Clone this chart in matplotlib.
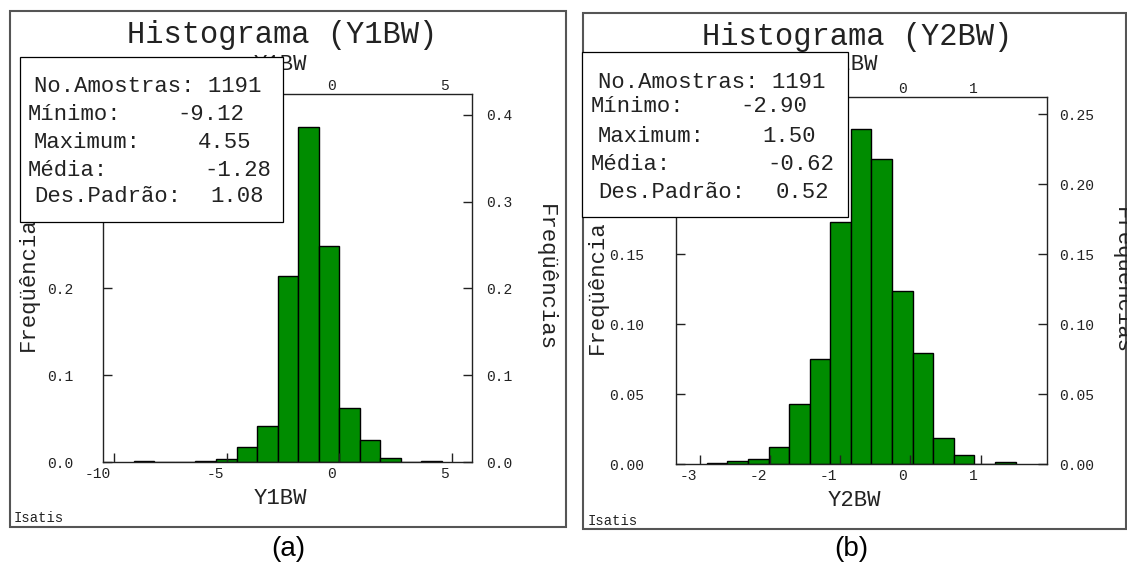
import numpy as np
import matplotlib
matplotlib.use("Agg")
import matplotlib.pyplot as plt
from matplotlib.patches import Rectangle
from matplotlib.transforms import ScaledTranslation

W, H, DPI = 1127, 567, 100
MONO = "Liberation Mono"
SANS = "Liberation Sans"
BAR_GREEN = "#008c00"
INK = "#222222"

# ---- Y1BW histogram ----
y1_name = "Y1BW"
y1_count = 1191
y1_min, y1_max = -9.12, 4.55
y1_mean, y1_std = -1.28, 1.08
y1_freq = [0.0008, 0.0, 0.0, 0.0008, 0.0034, 0.0173, 0.0411, 0.2140,
           0.3866, 0.2490, 0.0623, 0.0250, 0.0043, 0.0, 0.0008]
y1_xticks = [-10, -5, 0, 5]
y1_yticks = [0.0, 0.1, 0.2, 0.3, 0.4]
y1_xlim = (-10.49, 5.90)
y1_ylim = (0.0, 0.4242)

# ---- Y2BW histogram ----
y2_name = "Y2BW"
y2_count = 1191
y2_min, y2_max = -2.90, 1.50
y2_mean, y2_std = -0.62, 0.52
y2_freq = [0.0008, 0.0024, 0.0038, 0.0126, 0.0431, 0.0752, 0.1730, 0.2393,
           0.2183, 0.1240, 0.0797, 0.0188, 0.0064, 0.0, 0.0014]
y2_xticks = [-3, -2, -1, 0, 1]
y2_yticks = [0.00, 0.05, 0.10, 0.15, 0.20, 0.25]
y2_xlim = (-3.338, 1.943)
y2_ylim = (0.0, 0.2626)

stat_labels = ["No.Amostras:", "Mínimo:", "Maximum:", "Média:", "Des.Padrão:"]
captions = ["(a)", "(b)"]

fig = plt.figure(figsize=(W / DPI, H / DPI), dpi=DPI)
fig.patch.set_facecolor("white")


def fx(x):
    return x / W


def fy(y):
    return 1 - y / H


def put(x, y, s, size, ha="left", va="center", rot=0, z=3, family=MONO, color=INK):
    fig.text(fx(x), fy(y), s, fontsize=size, ha=ha, va=va, rotation=rot,
             zorder=z, family=family, color=color)


def rect(l, t, r, b, ec, lw, fc="none", z=1):
    fig.add_artist(Rectangle((fx(l), fy(b)), (r - l) / W, (b - t) / H,
                             transform=fig.transFigure, facecolor=fc,
                             edgecolor=ec, linewidth=lw, zorder=z))


def shift(labels, dx_px, dy_px):
    off = ScaledTranslation(dx_px / DPI, dy_px / DPI, fig.dpi_scale_trans)
    for lab in labels:
        lab.set_transform(lab.get_transform() + off)
        lab.set_horizontalalignment("right")


def style_ticks(ax, pad):
    ax.tick_params(direction="in", length=6.5, width=1.0, color=INK,
                   labelsize=10.5, labelcolor=INK, pad=pad)


def panel(name, count, vmin, vmax, mean, std, freq, xticks, yticks, yfmt,
          xlim, ylim, lay):
    l, t, r, b = lay["axes"]
    bl, bt, br, bb = lay["box"]
    ax = fig.add_axes([fx(l), fy(b), (r - l) / W, (b - t) / H])
    edges = np.linspace(vmin, vmax, len(freq) + 1)
    ax.bar(edges[:-1], freq, width=np.diff(edges), align="edge",
           color=BAR_GREEN, edgecolor="black", linewidth=1.0)
    ax.set_xlim(*xlim)
    ax.set_ylim(*ylim)
    for sp in ax.spines.values():
        sp.set_color(INK)
        sp.set_linewidth(1.0)

    # tick positions in figure pixels, to leave out labels beneath the box
    xpix = [l + (v - xlim[0]) / (xlim[1] - xlim[0]) * (r - l) for v in xticks]
    ypix = [b - (v - ylim[0]) / (ylim[1] - ylim[0]) * (b - t) for v in yticks]
    ylabels = [yfmt.format(v) for v in yticks]

    # bottom axis (labels) and left axis
    ax.set_xticks(xticks)
    ax.set_xticklabels([str(v) for v in xticks], family=MONO)
    ax.set_yticks(yticks)
    ax.set_yticklabels([s if py > bb + 6 else "" for s, py in zip(ylabels, ypix)],
                       family=MONO)
    style_ticks(ax, 0)
    ax.tick_params(axis="x", top=True, labeltop=False, pad=3.7)
    ax.tick_params(axis="y", left=True, right=False, pad=lay["lpad"])
    shift(ax.get_xticklabels(), -3, 0)

    # top axis labels
    axt = ax.twiny()
    axt.set_xlim(*xlim)
    axt.set_xticks(xticks)
    axt.set_xticklabels([str(v) if px > br + 5 else "" for v, px in zip(xticks, xpix)],
                        family=MONO)
    style_ticks(axt, 0.8)
    axt.tick_params(axis="x", length=0)
    shift(axt.get_xticklabels(), -3, 0)

    # right axis labels
    ax2 = ax.twinx()
    ax2.set_ylim(*ylim)
    ax2.set_yticks(yticks)
    ax2.set_yticklabels(ylabels, family=MONO)
    style_ticks(ax2, lay["rpad"])
    for a in (axt, ax2):
        for sp in a.spines.values():
            sp.set_visible(False)

    # outer frame, titles and labels
    rect(*lay["frame"], ec="#555555", lw=1.5, z=1)
    put(*lay["title"], f"Histograma ({name})", 22, ha="center")
    put(*lay["toplab"], name, 16, ha="center")
    put(*lay["botlab"], name, 16, ha="center")
    put(*lay["lefty"], "Freqüência", 16, ha="center", rot=90)
    put(*lay["righty"], "Freqüências", 16, ha="center", rot=-90)
    put(*lay["isatis"], "Isatis", 10)
    put(*lay["caption"], lay["captext"], 20, ha="center", family=SANS, color="black")

    # statistics box
    rect(bl, bt, br, bb, ec="black", lw=0.9, fc="white", z=10)
    values = [None, vmin, vmax, mean, std]
    for lbl, v, lx, vx, yy in zip(stat_labels, values, lay["lx"], lay["vx"], lay["ys"]):
        if v is None:
            put(lx, yy, f"{lbl} {count}", 16, z=11)
        else:
            put(lx, yy, lbl, 16, z=11)
            put(vx, yy, f"{v:.2f}", 16, z=11)
    return ax


lay1 = dict(axes=(103, 94, 472.3, 462), frame=(10, 11, 566, 527),
            title=(282.5, 35), toplab=(280, 64), botlab=(280, 498),
            lefty=(28, 284), righty=(545, 278), isatis=(14, 518),
            caption=(288, 549), captext=captions[0],
            box=(20, 57, 283, 222), lx=[34, 28, 34, 28, 34],
            vx=[0, 177, 198, 204, 210], ys=[87, 115, 142, 170, 197],
            lpad=21.6, rpad=9.9)
lay2 = dict(axes=(676, 96.7, 1046.7, 464.3), frame=(583, 13, 1126, 529),
            title=(857, 37), toplab=(851, 64), botlab=(854, 500),
            lefty=(597.5, 287.5), righty=(1121, 281), isatis=(588, 521),
            caption=(851, 549), captext=captions[1],
            box=(582, 52, 848, 217), lx=[598, 591, 598, 591, 598],
            vx=[0, 740, 762, 767, 776], ys=[82, 107, 137, 165, 192],
            lpad=22.8, rpad=8.6)

panel(y1_name, y1_count, y1_min, y1_max, y1_mean, y1_std, y1_freq,
      y1_xticks, y1_yticks, "{:.1f}", y1_xlim, y1_ylim, lay1)
panel(y2_name, y2_count, y2_min, y2_max, y2_mean, y2_std, y2_freq,
      y2_xticks, y2_yticks, "{:.2f}", y2_xlim, y2_ylim, lay2)

fig.savefig("out.png", dpi=DPI)
